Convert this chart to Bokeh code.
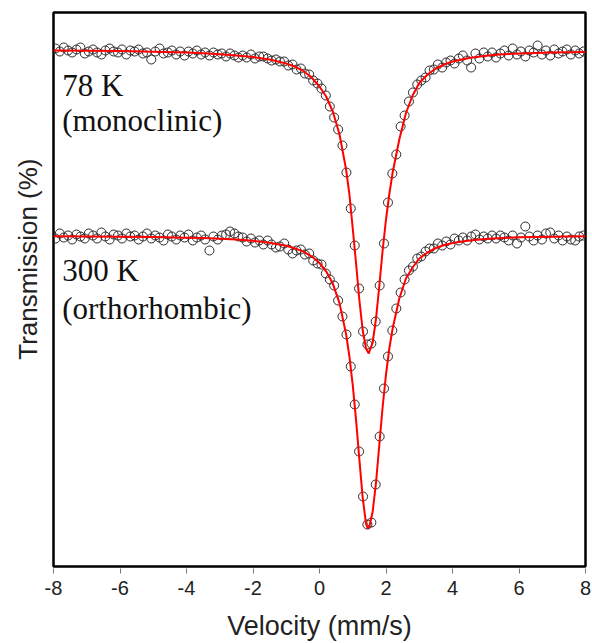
from bokeh.plotting import figure
from bokeh.models import Range1d, FixedTicker, Label, Title
from bokeh.embed import file_html
from bokeh.resources import INLINE

# ---------------- data ----------------
# velocity channels (mm/s)
velocity = [-7.94, -7.81, -7.69, -7.56, -7.44, -7.31, -7.19, -7.06, -6.94, -6.81,
            -6.69, -6.56, -6.44, -6.31, -6.19, -6.06, -5.94, -5.81, -5.69, -5.56,
            -5.44, -5.31, -5.19, -5.06, -4.94, -4.81, -4.69, -4.56, -4.44, -4.31,
            -4.19, -4.06, -3.94, -3.81, -3.69, -3.56, -3.44, -3.31, -3.19, -3.06,
            -2.94, -2.81, -2.69, -2.56, -2.44, -2.31, -2.19, -2.06, -1.94, -1.81,
            -1.69, -1.56, -1.44, -1.31, -1.19, -1.06, -0.94, -0.81, -0.69, -0.56,
            -0.44, -0.31, -0.19, -0.06, 0.06, 0.19, 0.31, 0.44, 0.56, 0.69,
            0.81, 0.94, 1.06, 1.19, 1.31, 1.44, 1.56, 1.69, 1.81, 1.94,
            2.06, 2.19, 2.31, 2.44, 2.56, 2.69, 2.81, 2.94, 3.06, 3.19,
            3.31, 3.44, 3.56, 3.69, 3.81, 3.94, 4.06, 4.19, 4.31, 4.44,
            4.56, 4.69, 4.81, 4.94, 5.06, 5.19, 5.31, 5.44, 5.56, 5.69,
            5.81, 5.94, 6.06, 6.19, 6.31, 6.44, 6.56, 6.69, 6.81, 6.94,
            7.06, 7.19, 7.31, 7.44, 7.56, 7.69, 7.81, 7.94]

# 78 K (monoclinic) spectrum, relative transmission (arbitrary offset units)
trans_78K = [518, 515, 519, 516, 514, 517, 519, 513, 515, 517,
             514, 512, 516, 518, 515, 514, 517, 512, 516, 515,
             517, 513, 514, 507, 515, 518, 513, 514, 516, 512,
             515, 511, 515, 513, 516, 512, 514, 511, 514, 512,
             513, 510, 513, 511, 509, 511, 509, 512, 508, 510,
             510, 508, 506, 507, 505, 505, 501, 502, 497, 498,
             493, 492, 486, 483, 478, 471, 460, 449, 437, 421,
             394, 358, 321, 278, 235, 222, 223, 245, 281, 323,
             364, 393, 412, 440, 451, 465, 474, 482, 486, 489,
             496, 497, 502, 499, 504, 506, 503, 508, 511, 506,
             499, 513, 508, 514, 510, 514, 509, 513, 516, 511,
             518, 512, 515, 510, 516, 514, 521, 512, 516, 511,
             517, 513, 515, 517, 512, 516, 513, 515]

# 300 K (orthorhombic) spectrum
trans_300K = [328, 333, 329, 331, 327, 332, 330, 328, 333, 331,
              328, 334, 330, 327, 332, 331, 328, 333, 330, 331,
              327, 330, 333, 328, 331, 329, 326, 332, 330, 327,
              331, 329, 332, 326, 329, 331, 327, 316, 330, 327,
              331, 332, 335, 333, 330, 329, 325, 328, 324, 326,
              322, 326, 322, 319, 320, 323, 317, 313, 316, 317,
              312, 313, 306, 303, 302, 293, 287, 281, 266, 250,
              232, 200, 162, 115, 70, 42, 44, 82, 130, 178,
              210, 236, 258, 274, 287, 296, 300, 308, 310, 315,
              318, 318, 323, 321, 325, 322, 328, 326, 329, 326,
              330, 332, 327, 330, 328, 331, 328, 331, 329, 326,
              331, 323, 329, 340, 330, 326, 331, 327, 333, 334,
              328, 331, 326, 330, 327, 326, 330, 331]

# fitted curves
fit_78K_v = [-8.0, -7.0, -6.0, -5.0, -4.0, -3.5, -3.0, -2.5, -2.0, -1.5,
             -1.0, -0.75, -0.5, -0.25, 0.0, 0.2, 0.4, 0.6, 0.8, 0.9,
             1.0, 1.1, 1.2, 1.3, 1.4, 1.48, 1.6, 1.7, 1.8, 1.9,
             2.0, 2.1, 2.2, 2.4, 2.6, 2.8, 3.0, 3.25, 3.5, 3.75,
             4.0, 4.5, 5.0, 5.5, 6.0, 7.0, 8.0]
fit_78K_t = [516.0, 515.8, 515.4, 514.8, 513.9, 513.2, 512.3, 511.0, 509.5, 507.0,
             503.0, 500.0, 495.8, 489.5, 480.0, 470.0, 455.0, 432.5, 397.0, 372.0,
             338.0, 303.0, 266.0, 236.0, 218.0, 213.0, 224.0, 248.0, 281.0, 316.5,
             347.0, 372.5, 394.0, 427.0, 453.5, 471.0, 483.5, 492.0, 498.0, 502.0,
             505.0, 508.5, 510.8, 512.2, 513.0, 514.0, 514.5]

fit_300K_v = [-8.0, -7.0, -6.0, -5.0, -4.0, -3.5, -3.0, -2.5, -2.0, -1.5,
              -1.0, -0.75, -0.5, -0.25, 0.0, 0.2, 0.4, 0.6, 0.8, 0.9,
              1.0, 1.1, 1.2, 1.3, 1.4, 1.45, 1.5, 1.6, 1.7, 1.8,
              1.9, 2.0, 2.1, 2.2, 2.4, 2.6, 2.8, 3.0, 3.25, 3.5,
              3.75, 4.0, 4.5, 5.0, 5.5, 6.0, 7.0, 8.0]
fit_300K_t = [330.3, 330.1, 329.8, 329.5, 328.8, 328.4, 327.8, 326.9, 325.7, 323.8,
              320.7, 318.3, 315.1, 310.4, 303.5, 295.2, 282.9, 263.6, 232.4, 209.9,
              181.4, 146.3, 106.7, 68.4, 42.7, 38.0, 40.0, 55.0, 84.0, 122.0,
              160.0, 192.0, 218.0, 238.0, 268.0, 288.0, 299.0, 308.0, 314.0, 318.5,
              321.5, 323.5, 326.0, 327.5, 328.5, 329.2, 329.8, 330.2]

x_ticks = [-8, -6, -4, -2, 0, 2, 4, 6, 8]
x_tick_labels = ["-8", "-6", "-4", "-2", "0", "2", "4", "6", "8"]

# ---------------- figure ----------------
p = figure(width=592, height=643, output_backend="svg", toolbar_location=None,
           x_range=Range1d(-8, 8), y_range=Range1d(0, 554),
           min_border_left=53, min_border_right=7, min_border_top=12,
           min_border_bottom=77)
p.grid.visible = False
p.background_fill_color = "white"
p.border_fill_color = "white"
p.outline_line_color = "black"
p.outline_line_width = 2.5

# x axis
xa = p.xaxis[0]
xa.ticker = FixedTicker(ticks=x_ticks)
xa.major_label_overrides = {t: s for t, s in zip(x_ticks, x_tick_labels)}
xa.axis_line_color = None
xa.major_tick_line_color = "#777777"
xa.major_tick_line_width = 1
xa.major_tick_in = -2
xa.major_tick_out = 7
xa.minor_tick_line_color = None
xa.major_label_standoff = 7
xa.major_label_text_font = "Liberation Sans"
xa.major_label_text_font_size = "20px"
xa.major_label_text_color = "#222222"
xa.axis_label = "Velocity (mm/s)"
xa.axis_label_text_font = "Liberation Sans"
xa.axis_label_text_font_size = "27px"
xa.axis_label_text_font_style = "normal"
xa.axis_label_text_color = "#222222"
xa.axis_label_standoff = 13

# y axis: no ticks, no line (frame draws it)
p.yaxis.visible = False

# y-axis title in the left panel, shifted above centre as in the picture
p.add_layout(Title(text="Transmission (%)", align="right", offset=146,
                   vertical_align="bottom", standoff=21,
                   text_font="Liberation Sans", text_font_size="26px",
                   text_font_style="normal", text_color="#222222"), "left")

# data points
p.scatter(velocity, trans_78K, marker="circle", size=9, fill_color=None,
          line_color="#2a2a2a", line_width=1)
p.scatter(velocity, trans_300K, marker="circle", size=9, fill_color=None,
          line_color="#2a2a2a", line_width=1)

# fits
p.line(fit_78K_v, fit_78K_t, line_color="#ff0000", line_width=2)
p.line(fit_300K_v, fit_300K_t, line_color="#ff0000", line_width=2)

# annotations
for txt, yy in [("78 K", 481), ("(monoclinic)", 446), ("300 K", 296), ("(orthorhombic)", 258)]:
    p.add_layout(Label(x=-7.74, y=yy, text=txt, text_font="Liberation Serif",
                       text_font_size="31px", text_color="#111111",
                       text_baseline="alphabetic", text_align="left"))

open("out.html", "w").write(file_html(p, INLINE))
